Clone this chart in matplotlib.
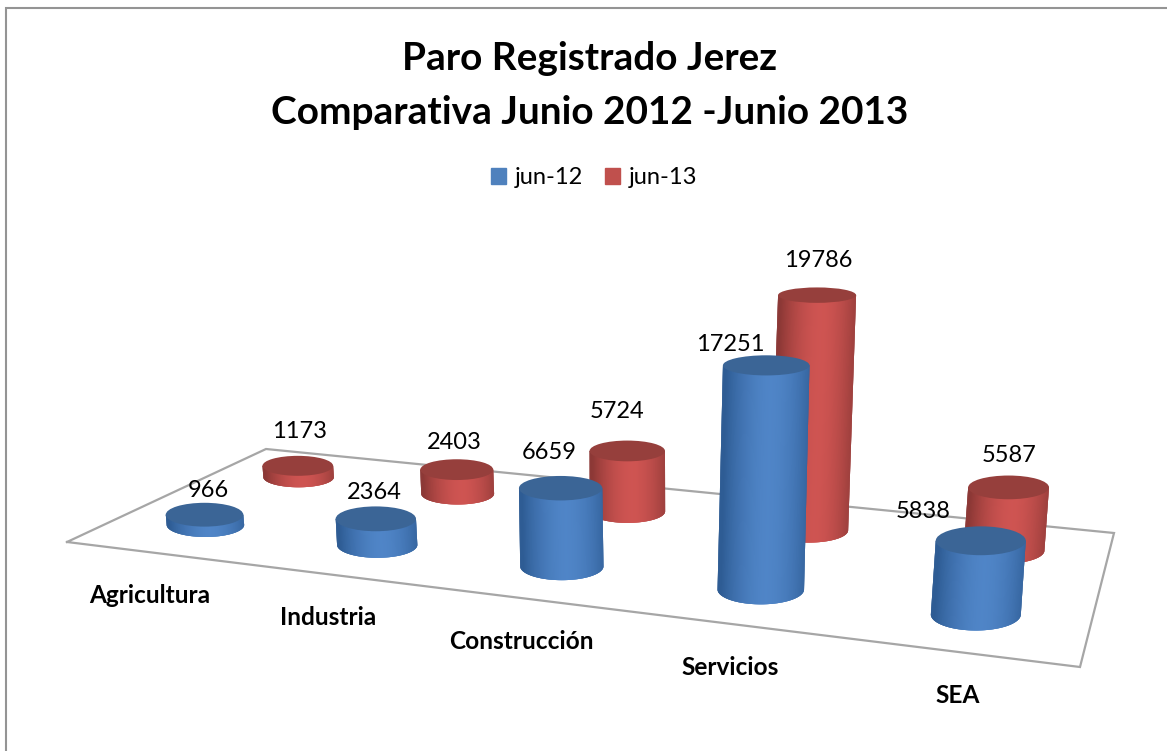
import numpy as np
import matplotlib
matplotlib.use("Agg")
import matplotlib.pyplot as plt
from matplotlib.patches import Ellipse, Patch

# Datos
categorias = ["Agricultura", "Industria", "Construcción", "Servicios", "SEA"]
jun_12 = [966, 2364, 6659, 17251, 5838]
jun_13 = [1173, 2403, 5724, 19786, 5587]
series = ["jun-12", "jun-13"]

titulo = "Paro Registrado Jerez\nComparativa Junio 2012 -Junio 2013"

# Desplazamiento de las etiquetas respecto a la tapa de cada cilindro
offset_12 = [(4, -24), (-2, -26), (-11, -36), (-36, -21), (-58, -29)]
offset_13 = [(2, -34), (-2, -27), (-10, -39), (1, -35), (0, -32)]

# Suelo del grafico en pixeles: delante-izq, delante-der, detras-der, detras-izq
suelo = [(67, 542), (1080, 667), (1114, 533), (266, 449)]

plt.rcParams['font.family'] = ['Lato', 'DejaVu Sans']


def homografia(p):
    (x0, y0), (x1, y1), (x2, y2), (x3, y3) = p
    dx1, dx2, sx = x1 - x2, x3 - x2, x0 - x1 + x2 - x3
    dy1, dy2, sy = y1 - y2, y3 - y2, y0 - y1 + y2 - y3
    det = dx1 * dy2 - dx2 * dy1
    g = (sx * dy2 - dx2 * sy) / det
    h = (dx1 * sy - sx * dy1) / det
    return np.array([[x1 - x0 + g * x1, x3 - x0 + h * x3, x0],
                     [y1 - y0 + g * y1, y3 - y0 + h * y3, y0],
                     [g, h, 1.0]])


H = homografia(suelo)


def proyectar(u, v):
    px, py, w = H @ np.array([u, v, 1.0])
    return px / w, py / w, w


def aplanado(y):
    # las elipses se ven mas planas cuanto mas arriba
    return 0.30 + 0.0005 * (y - 500)


def cilindro(ax, u, v, valor, oscuro, claro, tapa):
    bx, by, w = proyectar(u, v)
    alto = 0.0108 * valor / w * (1 + valor * 6.5e-6)
    rx = 40 / w
    tx = bx + (bx - 640) / 5000 * alto
    ty = by - alto
    ry_b = rx * aplanado(by)
    ry_t = rx * aplanado(ty)

    oscuro, claro = np.array(oscuro), np.array(claro)
    t = -np.cos(np.linspace(0, np.pi, 121))
    # cada tira pisa a las siguientes para que no queden juntas visibles
    for j in range(len(t) - 1):
        sub = t[j:j + 4]
        m = (t[j] + t[j + 1]) / 2
        k = np.clip(1 - np.abs(m - 0.12) ** 1.8 / 1.1, 0, 1)
        color = oscuro + (claro - oscuro) * k
        px = np.r_[bx + rx * sub, tx + rx * sub[-1], tx + rx * sub[0]]
        py = np.r_[by + ry_b * np.sqrt(np.clip(1 - sub ** 2, 0, 1)), ty, ty]
        ax.fill(px, py, facecolor=color, edgecolor='none', lw=0, zorder=3)
    ax.add_patch(Ellipse((tx, ty), 2 * rx, 2 * ry_t, fc=tapa, ec='none', zorder=3))
    return tx, ty


fig = plt.figure(figsize=(11.67, 7.51), dpi=100)
ax = fig.add_axes([0, 0, 1, 1])
ax.set_xlim(0, 1167)
ax.set_ylim(751, 0)
ax.axis('off')

# Marco exterior: solo se ve arriba y a la izquierda
ax.plot([6, 6, 1167], [751, 8, 8], color='#949494', lw=1.5, zorder=0, solid_joinstyle='miter')

# Suelo
xs, ys = zip(*(suelo + suelo[:1]))
ax.plot(xs, ys, color='#a6a6a6', lw=1.6, zorder=1, solid_joinstyle='miter')

titulo_y = [58, 112]
for linea, y in zip(titulo.split("\n"), titulo_y):
    ax.text(590, y, linea, ha='center', va='center', fontsize=27.9, fontweight='bold', color='black', zorder=5)

leg = ax.legend(handles=[Patch(color='#4f81bd', label=series[0]), Patch(color='#c0504d', label=series[1])],
                ncol=2, frameon=False, fontsize=17, loc='center', bbox_to_anchor=(594 / 1167, 1 - 178 / 751),
                handlelength=0.65, handleheight=0.65, handletextpad=0.35, columnspacing=0.95, labelcolor='black')

n = len(categorias)
u = (np.arange(n) + 0.5) / n

# Primero la fila de atras (rojo), luego la de delante (azul)
etiquetas = []
for i in range(n):
    tx, ty = cilindro(ax, u[i], 0.75, jun_13[i], (0.55, 0.22, 0.21), (0.81, 0.33, 0.32), '#963f3c')
    etiquetas.append((tx + offset_13[i][0], ty + offset_13[i][1], jun_13[i]))
for i in range(n):
    tx, ty = cilindro(ax, u[i], 0.25, jun_12[i], (0.18, 0.36, 0.58), (0.31, 0.52, 0.78), '#3b6596')
    etiquetas.append((tx + offset_12[i][0], ty + offset_12[i][1], jun_12[i]))

for x, y, valor in etiquetas:
    ax.text(x, y, str(valor), ha='center', va='center', fontsize=17, color='black', zorder=6)

for i, nombre in enumerate(categorias):
    fx, fy, _ = proyectar(u[i], 0)
    ax.text(fx - 2, fy + 43, nombre, ha='center', va='center', fontsize=17.6, fontweight='bold', color='black', zorder=5)

fig.savefig("out.png", dpi=100)
